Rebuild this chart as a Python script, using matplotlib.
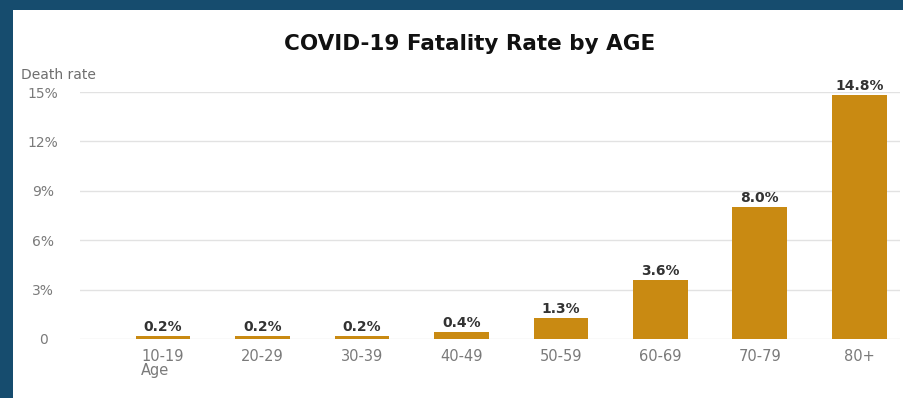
import matplotlib
matplotlib.use("Agg")
import matplotlib.pyplot as plt
from matplotlib.patches import Rectangle

# data
age_groups = ["10-19", "20-29", "30-39", "40-49", "50-59", "60-69", "70-79", "80+"]
death_rate = [0.2, 0.2, 0.2, 0.4, 1.3, 3.6, 8.0, 14.8]
y_ticks = [0, 3, 6, 9, 12, 15]
y_tick_labels = ["0", "3%", "6%", "9%", "12%", "15%"]

W, H = 904, 398
fig = plt.figure(figsize=(W / 100, H / 100), dpi=100)
fig.patch.set_facecolor("#164c6e")

# white card on the blue frame (drawn underneath the axes)
fig.patches.append(Rectangle((13 / W, 0), 1 - 13 / W, 1 - 10 / H,
                             transform=fig.transFigure, facecolor="white",
                             edgecolor="none", zorder=-10))

ax = fig.add_axes([80 / W, (H - 339) / H, 820 / W, 247 / H])
ax.set_facecolor("white")

x = list(range(len(age_groups)))
bars = ax.bar(x, death_rate, width=0.55, color="#c98a12", zorder=3)
ax.bar_label(bars, labels=[f"{v:.1f}%" for v in death_rate], padding=1.5,
             fontsize=10, fontweight="bold", color="#333333")

ax.set_xlim(-0.835, 7.41)
ax.set_ylim(0, 15)
ax.set_xticks(x)
ax.set_xticklabels(age_groups, fontsize=10.5, color="#7a7a7a")
ax.set_yticks(y_ticks)
ax.set_yticklabels(y_tick_labels, fontsize=10, color="#7a7a7a", ha="center")
ax.tick_params(axis="x", length=0, pad=7)
ax.tick_params(axis="y", length=0, pad=26.5)

ax.grid(axis="y", color="#e2e2e2", linewidth=1, zorder=0)
for s in ax.spines.values():
    s.set_visible(False)

fig.text(470 / W, 1 - 44 / H, "COVID-19 Fatality Rate by AGE", ha="center",
         va="center", fontsize=15.5, fontweight="bold", color="#111111")
fig.text(21 / W, 1 - 75 / H, "Death rate", ha="left", va="center",
         fontsize=10, color="#6e6e6e")
fig.text(141 / W, 1 - 371 / H, "Age", ha="left", va="center",
         fontsize=10.5, color="#7a7a7a")

fig.savefig("out.png", dpi=100, facecolor=fig.get_facecolor())
